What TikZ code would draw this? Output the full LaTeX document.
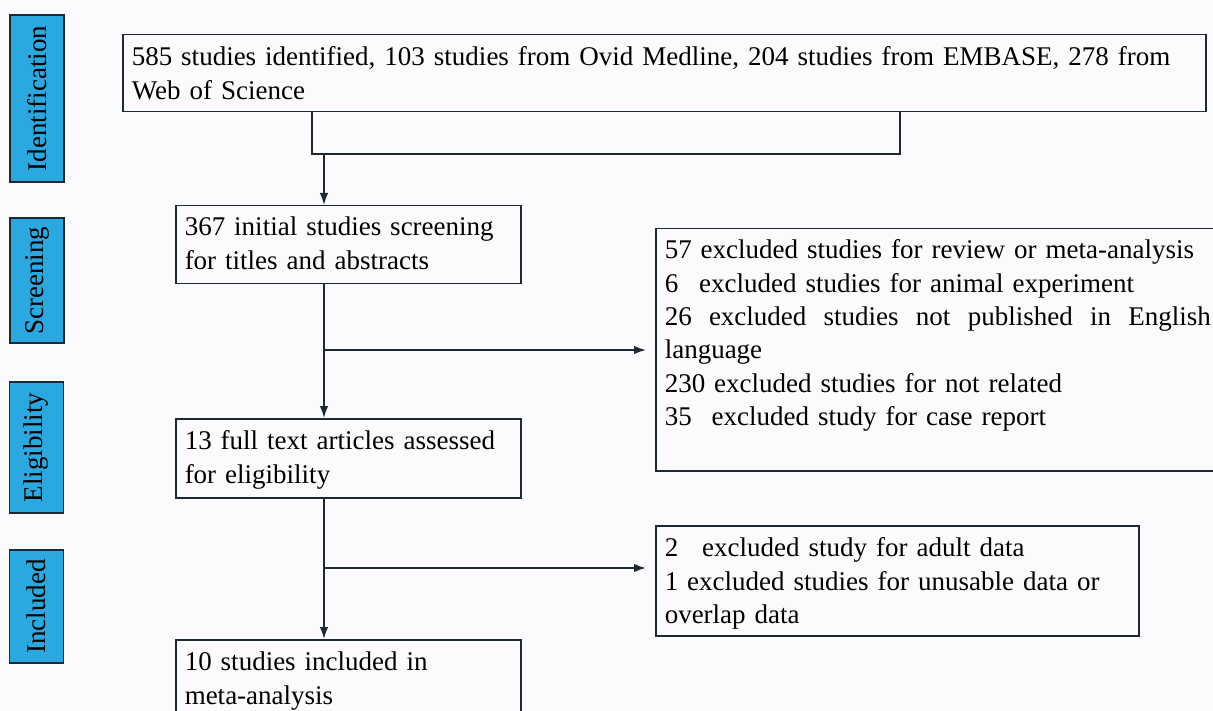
\documentclass[tikz,border=0pt]{standalone}
\usepackage{fontspec}
\setmainfont{Liberation Serif}
\usetikzlibrary{arrows.meta}

\definecolor{pagebg}{HTML}{FBFBFD}
\definecolor{stageblue}{HTML}{2BA8E0}
\definecolor{edge}{HTML}{1E2A33}

\tikzset{
  box/.style={draw=edge, line width=1.5pt, anchor=north west, align=left,
    inner xsep=9pt, inner ysep=0pt, font=\fontsize{27}{33.4}\selectfont},
  stage/.style={draw=edge, fill=stageblue, line width=1.5pt, rotate=90,
    minimum height=54pt, inner sep=0pt, font=\fontsize{27}{30}\selectfont},
  arr/.style={line width=1.6pt, draw=edge, -{Latex[length=12pt,width=8.5pt]}},
  link/.style={line width=1.6pt, draw=edge}
}

\begin{document}
\begin{tikzpicture}[x=1pt,y=-1pt]
      \fill[pagebg] (0,0) rectangle (1213,711);
      \useasboundingbox (0,0) rectangle (1213,711);
      % stages
      \node[stage, minimum width=167pt] (sid) at (37,98.5) {Identification};
      \node[stage, minimum width=125pt] (ssc) at (37,280.5) {Screening};
      \node[stage, minimum width=131pt] (sel) at (36.5,447.5) {Eligibility};
      \node[stage, minimum width=113pt] (sin) at (36.5,606.5) {Included};
      % main column
      \node[box, text width=1065pt, text height=31pt, text depth=46pt] (ident) at (122,34)
        {585 studies identified, 103 studies from Ovid Medline, 204 studies from EMBASE, 278 from\\Web of Science};
      \node[box, text width=327pt, text height=30pt, text depth=48pt] (scr) at (175,205)
        {367 initial studies screening\\for titles and abstracts};
      \node[box, text width=327pt, text height=31pt, text depth=48pt] (elig) at (175,418)
        {13 full text articles assessed\\for eligibility};
      \node[box, text width=327pt, text height=31pt, text depth=60pt] (incl) at (175,639)
        {10 studies included in\\meta-analysis};
      % exclusions
      \node[box, text width=546pt, text height=30pt, text depth=212pt] (exa) at (655,228)
        {57 excluded studies for review or meta-analysis\\
         6\hspace{21pt}excluded studies for animal experiment\\
         \makebox[546pt][l]{26\hfill excluded\hfill studies\hfill not\hfill published\hfill in\hfill English}\\
         language\\
         230 excluded studies for not related\\
         35\hspace{20pt}excluded study for case report};
      \node[box, text width=465pt, text height=31pt, text depth=79pt] (exb) at (655,525)
        {2\hspace{24pt}excluded study for adult data\\
         1 excluded studies for unusable data or\\
         overlap data};
      % connectors
      \coordinate (jl) at (312,154);
      \coordinate (jr) at (900,154);
      \coordinate (jm) at (324,154);
      \coordinate (ba) at (324,350);
      \coordinate (bb) at (324,568);
      \draw[link] (ident.south -| jl) -- (jl) -- (jr) -- (ident.south -| jr);
      \draw[arr] (jm) -- (scr.north -| jm);
      \draw[arr] (scr.south -| jm) -- (elig.north -| jm);
      \draw[arr] (elig.south -| jm) -- (incl.north -| jm);
      \draw[arr, shorten >=9pt] (ba) -- (exa.west |- ba);
      \draw[arr, shorten >=9pt] (bb) -- (exb.west |- bb);
    \end{tikzpicture}
\end{document}
